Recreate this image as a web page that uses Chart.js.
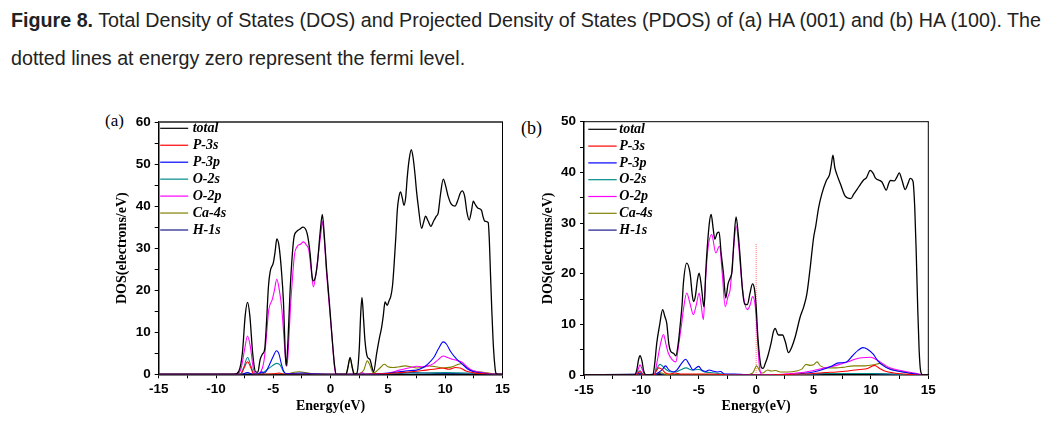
<!DOCTYPE html>
<html>
<head>
<meta charset="utf-8">
<script src="https://cdn.jsdelivr.net/npm/chart.js@4.4.1/dist/chart.umd.min.js"></script>
<style>
  body { margin: 0; background: #fff; width: 1058px; height: 429px; overflow: hidden; position: relative; }
  .cap { position: absolute; left: 11px; font-family: 'Liberation Sans', Arial, sans-serif; font-size: 19.7px; line-height: 38px; color: #222; white-space: nowrap; }
  .tag { position: absolute; font-family: 'Liberation Serif', serif; color: #000; line-height: 20px; }
  canvas { position: absolute; }
</style>
</head>
<body>
<div class="cap" style="top:1px"><b>Figure 8.</b> Total Density of States (DOS) and Projected Density of States (PDOS) of (a) HA (001) and (b) HA (100). The</div>
<div class="cap" style="top:39px">dotted lines at energy zero represent the fermi level.</div>
<div class="tag" style="left:105px; top:111px; font-size:17px">(a)</div>
<div class="tag" style="left:521px; top:118px; font-size:18px">(b)</div>
<canvas id="chartA" width="520" height="329" style="left:0; top:100px"></canvas>
<canvas id="chartB" width="538" height="329" style="left:520px; top:100px"></canvas>
<script>
const seriesNames = ['total', 'P-3s', 'P-3p', 'O-2s', 'O-2p', 'Ca-4s', 'H-1s'];
const seriesColors = ['#000000', '#ff0000', '#0000ff', '#008b8b', '#ff00ff', '#808000', '#1a1a8c'];

const energyTicks = [-15, -12.5, -10, -7.5, -5, -2.5, 0, 2.5, 5, 7.5, 10, 12.5, 15];
const energyLabels = [-15, -10, -5, 0, 5, 10, 15];
const dosTicksA = [0, 5, 10, 15, 20, 25, 30, 35, 40, 45, 50, 55, 60];
const dosTicksB = [0, 5, 10, 15, 20, 25, 30, 35, 40, 45, 50];
const dosLabels = [0, 10, 20, 30, 40, 50, 60];

// (a) HA (001) -- [energy, DOS]
const aTotal = [[-15,0],[-8.4,0],[-8.0,0.8],[-7.7,5],[-7.45,14],[-7.25,17.1],[-7.05,14],[-6.8,5],[-6.55,0.6],[-6.35,0.5],[-6.15,3.5],[-5.95,4.8],[-5.75,6],[-5.6,12],[-5.42,21],[-5.27,24.5],[-5.0,26.5],[-4.85,29],[-4.69,32.2],[-4.5,30.5],[-4.3,25],[-4.11,17],[-3.97,6],[-3.87,2],[-3.72,8],[-3.55,19],[-3.38,27],[-3.2,32.5],[-2.95,34],[-2.7,34.5],[-2.4,35],[-2.05,33.5],[-1.8,29],[-1.6,23],[-1.48,22.2],[-1.3,23.5],[-1.15,26.4],[-0.92,33.5],[-0.72,38],[-0.55,33],[-0.35,25],[-0.12,17.5],[0.15,8],[0.35,2],[0.5,0],[1.35,0],[1.5,1.5],[1.7,4.0],[1.9,1.5],[2.05,0],[2.3,0.3],[2.5,6],[2.62,14],[2.74,18.3],[2.88,13],[3.0,8],[3.2,4.2],[3.44,3.5],[3.6,1.8],[3.75,0.6],[4.02,5],[4.25,8.5],[4.46,11.3],[4.6,14],[4.75,17.2],[4.95,16.4],[5.1,17.5],[5.24,18.4],[5.4,21],[5.53,25.6],[5.7,33],[5.82,39],[5.95,42],[6.1,43.4],[6.25,42],[6.4,40.2],[6.55,42],[6.69,46.9],[6.85,51],[7.04,53.4],[7.2,51.5],[7.36,47.7],[7.5,43.5],[7.65,40],[7.94,34.7],[8.1,36],[8.29,37.6],[8.5,36.5],[8.75,35.2],[9.0,36.5],[9.2,37.5],[9.39,38.4],[9.6,43],[9.83,46.4],[10.05,44.7],[10.26,42.3],[10.5,40.6],[10.85,40],[11.13,41.6],[11.3,43],[11.48,43.6],[11.7,42.3],[11.9,38.5],[12.09,36.7],[12.3,39],[12.45,41.2],[12.6,40.5],[12.87,39.5],[13.17,39],[13.3,37.5],[13.46,36.4],[13.75,36.1],[13.85,32],[13.95,24],[14.07,15],[14.18,8],[14.3,3],[14.42,0.3],[14.6,0],[15,0]];
const aP3s = [[-15,0],[-7.85,0],[-7.55,1.5],[-7.25,3.0],[-6.95,1.5],[-6.7,0],[-5,0.1],[-4.5,0.3],[-4,0],[0,0],[5,0.2],[6,0.4],[7,0.6],[8,0.9],[9,1.2],[9.8,1.5],[10.3,1.2],[10.9,1.6],[11.3,1.5],[11.8,0.8],[12.4,0.4],[13,0.2],[14,0],[15,0]];
const aP3p = [[-15,0],[-7.8,0],[-7.25,0.4],[-6.8,0],[-6.2,0.2],[-6.0,0.6],[-5.8,0.3],[-5.6,0.8],[-5.3,2.5],[-5.0,4.3],[-4.72,5.6],[-4.5,4.8],[-4.3,2.5],[-4.1,0.8],[-3.9,0.2],[-3.5,0.2],[-2.5,0.3],[-1.5,0.1],[0,0],[3,0],[4,0.1],[5,0.3],[6,0.6],[7,0.9],[7.5,1.0],[8.0,1.5],[8.5,2.5],[9.0,4.0],[9.4,6.0],[9.83,7.7],[10.1,7.2],[10.5,5.3],[11.0,3.6],[11.5,2.4],[12.0,1.2],[12.5,0.6],[13.2,0.3],[14.2,0],[15,0]];
const aO2s = [[-15,0],[-7.9,0],[-7.6,1.5],[-7.25,4.0],[-6.95,2],[-6.7,0.2],[-6.2,0.2],[-5.9,0.4],[-5.5,1.2],[-5.1,2.0],[-4.72,2.6],[-4.4,2.2],[-4.15,0.8],[-3.9,0.1],[-3,0.1],[0,0],[5,0.1],[6,0.3],[8,0.3],[10,0.4],[12,0.3],[14,0],[15,0]];
const aO2p = [[-15,0],[-8.2,0],[-7.8,1.5],[-7.5,6],[-7.25,9.1],[-7.0,6.5],[-6.75,1.5],[-6.5,0.1],[-6.2,0.3],[-5.95,1.5],[-5.8,3.4],[-5.6,9],[-5.4,15.3],[-5.1,17.7],[-4.9,20],[-4.7,22.6],[-4.5,20.5],[-4.25,15.3],[-4.05,8],[-3.9,2.6],[-3.8,2],[-3.65,8],[-3.5,16],[-3.35,22],[-3.15,28.5],[-2.94,30.3],[-2.6,31],[-2.37,31.5],[-2.1,30.7],[-1.9,29.5],[-1.7,25],[-1.5,20.8],[-1.3,23.5],[-1.06,28.8],[-0.85,33.5],[-0.71,36.3],[-0.55,32],[-0.35,24],[-0.12,16.5],[0.15,8],[0.33,2],[0.45,0],[2.5,0],[2.75,0.4],[3.0,0],[4.5,0.1],[5.0,0.2],[5.5,0.6],[6.0,1.0],[6.5,1.3],[7.0,1.6],[7.5,1.9],[8.0,1.8],[8.5,2.0],[9.0,2.6],[9.4,3.5],[9.83,4.35],[10.2,4.0],[10.6,3.6],[11.0,3.3],[11.5,2.8],[11.9,1.8],[12.3,1.0],[12.8,0.6],[13.5,0.3],[14.3,0],[15,0]];
const aCa4s = [[-15,0],[-8,0],[-7.25,0.3],[-6.5,0],[-3.6,0.2],[-3.2,0.5],[-2.7,0.6],[-2.2,0.4],[-1.5,0.1],[0,0],[1.3,0],[1.5,1.5],[1.7,3.8],[1.9,1.5],[2.1,0.1],[2.5,0.2],[2.9,1.0],[3.2,3.2],[3.45,2.0],[3.7,0.4],[3.9,0.5],[4.3,1.5],[4.7,2.4],[5.0,1.8],[5.5,1.6],[6.0,1.8],[6.5,2.0],[7.0,1.8],[7.5,1.5],[8.0,1.6],[8.6,2.0],[9.2,1.8],[9.8,1.5],[10.5,1.7],[11.0,2.2],[11.35,2.5],[11.7,2.0],[12.2,1.0],[13.0,0.6],[13.8,0.3],[14.5,0],[15,0]];
const aH1s = [[-15,0],[-6.2,0],[-6.0,0.4],[-5.8,0],[5,0],[6,0.2],[7,0.4],[8,0.3],[10,0.2],[12,0.1],[15,0]];

// (b) HA (100) -- [energy, DOS]
const bTotal = [[-15,0],[-10.6,0],[-10.4,1],[-10.25,3],[-10.12,3.8],[-9.95,2.8],[-9.8,0.8],[-9.6,0],[-9.0,0],[-8.85,2],[-8.66,6.3],[-8.4,10],[-8.15,12.9],[-7.95,11.5],[-7.79,10.2],[-7.6,6],[-7.45,4.7],[-7.2,4.3],[-7.0,3.8],[-6.8,6],[-6.63,9.6],[-6.45,14],[-6.34,18.1],[-6.05,22.1],[-5.76,20.1],[-5.55,15.5],[-5.45,14.5],[-5.3,15.5],[-5.1,19],[-4.97,20.1],[-4.8,18],[-4.6,14],[-4.53,13.5],[-4.4,20],[-4.25,25.5],[-4.05,30.5],[-3.92,31.7],[-3.75,29],[-3.6,26.8],[-3.4,28],[-3.23,28.2],[-3.05,24],[-2.85,20.1],[-2.65,15.2],[-2.45,18],[-2.25,19.2],[-2.1,20.5],[-1.95,26],[-1.75,31.2],[-1.55,27.5],[-1.4,23.4],[-1.2,17],[-1.0,14],[-0.76,13.9],[-0.55,16],[-0.32,18],[-0.15,17],[0,13.5],[0.15,7.5],[0.3,3.6],[0.45,1.5],[0.6,1.3],[0.8,2.3],[1.0,3.6],[1.3,6.3],[1.5,8.5],[1.66,9.2],[1.85,8.2],[1.95,7.9],[2.3,7.9],[2.55,6.5],[2.82,4.4],[3.1,5.5],[3.4,7.5],[3.84,11.5],[4.15,13.5],[4.42,16],[4.7,21],[5.0,27],[5.2,29.5],[5.44,33],[5.73,35.8],[6.1,38.3],[6.4,39.6],[6.55,41.5],[6.69,43.4],[6.85,41],[7.03,39.6],[7.33,37.8],[7.76,35.3],[8.26,34.8],[8.5,35.7],[8.78,36.6],[9.1,37.7],[9.36,38.5],[9.6,38.9],[9.94,40.4],[10.2,39.8],[10.38,38.9],[10.96,38.1],[11.34,36.5],[11.55,37.8],[11.69,38.4],[12.03,38.3],[12.25,39],[12.47,39.9],[12.7,38.5],[12.99,36.6],[13.2,37.6],[13.43,38.8],[13.66,38.3],[13.82,33],[13.95,24],[14.08,13],[14.2,5],[14.33,0.8],[14.5,0],[15,0]];
const bP3s = [[-15,0],[-10.5,0],[-10.12,0.7],[-9.8,0],[-8.9,0],[-8.7,0.8],[-8.5,1.4],[-8.2,1.1],[-7.9,0.4],[-7.5,0.2],[-7.1,0.4],[-6.6,0.2],[-6,0.2],[-4,0.2],[-2,0],[0,0],[4,0.2],[5,0.3],[6,0.5],[7,0.6],[8,0.8],[9,1.1],[9.7,1.3],[10.3,1.9],[10.7,1.4],[11.2,0.8],[12,0.4],[13,0.2],[14,0],[15,0]];
const bP3p = [[-15,0],[-10.5,0],[-10.12,0.4],[-9.8,0],[-8.9,0],[-8.5,0.5],[-8.2,1.0],[-7.9,1.8],[-7.6,1.0],[-7.2,0.6],[-6.9,1.0],[-6.5,2.3],[-6.15,3.1],[-5.8,2.0],[-5.5,1.0],[-5.2,1.5],[-5.0,1.7],[-4.75,1.0],[-4.4,0.7],[-4.1,1.0],[-3.8,0.8],[-3.4,0.6],[-3.1,0.7],[-2.8,0.2],[-2.0,0.2],[-1,0.1],[0,0],[3,0.1],[4,0.3],[5,0.6],[5.8,1.1],[6.5,1.7],[7.2,2.4],[7.8,2.5],[8.4,3.8],[8.9,4.9],[9.3,5.4],[9.7,5.1],[10.2,4.1],[10.6,2.8],[11.1,1.8],[11.7,1.1],[12.5,0.7],[13.3,0.4],[14.2,0.1],[15,0]];
const bO2s = [[-15,0],[-10.5,0],[-10.12,0.9],[-9.8,0],[-8.9,0],[-8.6,1.5],[-8.38,2.1],[-8.1,1.6],[-7.8,1.0],[-7.4,0.6],[-7.0,0.6],[-6.6,1.0],[-6.1,1.4],[-5.6,1.0],[-5.0,1.1],[-4.5,0.6],[-4,0.5],[-3.3,0.3],[-2.5,0.1],[0,0],[4,0.1],[6,0.3],[8,0.3],[10,0.3],[12,0.2],[14,0],[15,0]];
const bO2p = [[-15,0],[-10.5,0],[-10.3,1],[-10.12,2.0],[-9.9,1],[-9.7,0],[-8.9,0],[-8.6,3],[-8.3,6.5],[-8.08,8.0],[-7.85,6],[-7.65,4.3],[-7.3,3],[-7.0,2.6],[-6.75,6],[-6.5,10],[-6.34,12.9],[-6.05,16.2],[-5.75,14],[-5.47,11.9],[-5.2,14],[-4.97,16.2],[-4.8,14],[-4.6,10.9],[-4.45,17],[-4.24,24.1],[-3.87,27.7],[-3.52,24.1],[-3.2,25.4],[-2.95,20],[-2.7,13.5],[-2.45,15.5],[-2.27,16.8],[-2.0,24],[-1.74,29.4],[-1.5,25],[-1.4,22.1],[-1.1,15.5],[-0.76,12.9],[-0.5,14],[-0.32,15.5],[-0.1,14],[0,11.5],[0.15,6],[0.29,1.6],[0.5,0.1],[2,0.1],[3,0.3],[4,0.5],[5,0.9],[6,1.4],[7,1.9],[8,2.6],[8.6,3.1],[9.2,3.4],[10.0,3.5],[10.5,3.0],[11.0,2.3],[11.5,1.6],[12.0,1.2],[12.8,0.8],[13.5,0.5],[14.2,0.2],[14.6,0],[15,0]];
const bCa4s = [[-15,0],[-10.5,0],[-10.12,0.3],[-9.8,0],[-8.9,0],[-8.4,0.5],[-8,0.2],[-7,0],[-1,0],[-0.3,0.4],[0.05,1.8],[0.35,0.6],[0.6,0.4],[1.0,1.0],[1.3,0.8],[1.7,0.9],[2.1,0.6],[2.8,0.6],[3.5,0.8],[4.0,1.2],[4.35,2.1],[4.7,1.9],[5.0,2.0],[5.3,2.6],[5.6,1.8],[6.2,1.4],[7.0,1.4],[7.5,1.5],[8.5,1.8],[9.5,1.8],[10.2,2.0],[10.8,2.3],[11.3,1.6],[12.0,1.0],[12.8,0.6],[13.5,0.3],[14.3,0],[15,0]];
const bH1s = [[-15,0],[-10.2,0.2],[-9.8,0],[-8.4,0.3],[-8,0],[4,0],[6,0.3],[8,0.3],[10,0.3],[12,0.1],[15,0]];
const bFermi = [[0,0],[0,26]];

const seriesA = [aTotal, aP3s, aP3p, aO2s, aO2p, aCa4s, aH1s];
const seriesB = [bTotal, bP3s, bP3p, bO2s, bO2p, bCa4s, bH1s];

function pts(arr) {
    return arr.map(p => ({ x: p[0], y: p[1] }));
}

// frame (top/right) and the legend drawn inside the plot
const frameLegend = {
    id: 'frameLegend',
    afterDatasetsDraw(chart, args, o) {
        const { ctx, chartArea: ca } = chart;
        ctx.save();
        ctx.strokeStyle = o.topColor;
        ctx.lineWidth = o.topWidth;
        ctx.beginPath();
        ctx.moveTo(ca.left, ca.top);
        ctx.lineTo(ca.right + 0.5, ca.top);
        ctx.stroke();
        ctx.strokeStyle = '#000';
        ctx.lineWidth = 1;
        ctx.beginPath();
        ctx.moveTo(ca.right, ca.top);
        ctx.lineTo(ca.right, ca.bottom);
        ctx.stroke();

        ctx.font = 'italic bold 14px "Liberation Serif"';
        ctx.textBaseline = 'middle';
        chart.data.datasets.forEach((ds, i) => {
            if (!ds.label) return;
            const y = ca.top + o.y0 + i * o.rowH;
            ctx.strokeStyle = ds.borderColor;
            ctx.lineWidth = 1.2;
            ctx.beginPath();
            ctx.moveTo(ca.left + o.x0, y);
            ctx.lineTo(ca.left + o.x0 + o.lineW, y);
            ctx.stroke();
            ctx.fillStyle = '#000';
            ctx.fillText(ds.label, ca.left + o.textX, y);
        });
        ctx.restore();
    }
};

function makeChart(id, series, fermi, cfg) {
    const datasets = series.map((s, i) => ({
        label: seriesNames[i],
        data: pts(s),
        borderColor: seriesColors[i],
        borderWidth: i === 0 ? 1.3 : 1.1,
        pointRadius: 0,
        cubicInterpolationMode: 'monotone',
        fill: false
    }));
    if (fermi) {
        datasets.push({
            label: '',
            data: pts(fermi),
            borderColor: '#ff7070',
            borderWidth: 1,
            borderDash: [1, 1],
            pointRadius: 0,
            fill: false
        });
    }

    const tickFont = { family: 'Liberation Sans', weight: 'bold', size: 13.5 };
    const titleFont = { family: 'Liberation Serif', weight: 'bold', size: 14 };

    return new Chart(document.getElementById(id), {
        type: 'line',
        data: { datasets },
        plugins: [frameLegend],
        options: {
            responsive: false,
            animation: false,
            events: [],
            layout: { padding: cfg.padding },
            plugins: {
                legend: { display: false },
                tooltip: { enabled: false },
                frameLegend: cfg.legend
            },
            scales: {
                x: {
                    type: 'linear',
                    min: -15,
                    max: 15,
                    afterBuildTicks: s => { s.ticks = energyTicks.map(v => ({ value: v })); },
                    ticks: {
                        autoSkip: false,
                        maxRotation: 0,
                        padding: 3,
                        color: '#000',
                        font: tickFont,
                        callback: v => energyLabels.includes(v) ? String(v) : ''
                    },
                    grid: { drawOnChartArea: false, tickLength: 4, tickColor: '#000' },
                    border: { color: '#000', width: 1.5 },
                    title: { display: true, text: 'Energy(eV)', color: '#000', font: titleFont, padding: { top: 0, bottom: 14 } },
                    afterFit: s => { s.height = cfg.xH; }
                },
                y: {
                    type: 'linear',
                    min: 0,
                    max: cfg.yMax,
                    afterBuildTicks: s => { s.ticks = cfg.yTicks.map(v => ({ value: v })); },
                    ticks: {
                        autoSkip: false,
                        padding: 4,
                        color: '#000',
                        font: tickFont,
                        callback: v => dosLabels.includes(v) ? String(v) : ''
                    },
                    grid: { drawOnChartArea: false, tickLength: 4, tickColor: '#000' },
                    border: { color: '#000', width: 1.5 },
                    title: { display: true, text: 'DOS(electrons/eV)', color: '#000', font: titleFont, padding: { top: 3.5, bottom: 0 } },
                    afterFit: s => { s.width = cfg.yW; }
                }
            }
        }
    });
}

makeChart('chartA', seriesA, null, {
    padding: { left: 110, right: 17.5, top: 22, bottom: 0 },
    xH: 54.7, yW: 48.7, yMax: 60, yTicks: dosTicksA,
    legend: { topColor: '#555', topWidth: 2, x0: 1.5, lineW: 28, textX: 34, y0: 6.3, rowH: 16.95 }
});

makeChart('chartB', seriesB, bFermi, {
    padding: { left: 16, right: 129.7, top: 21.7, bottom: 0 },
    xH: 54, yW: 48, yMax: 50, yTicks: dosTicksB,
    legend: { topColor: '#000', topWidth: 1, x0: 4.3, lineW: 28.4, textX: 35.3, y0: 7.6, rowH: 16.8 }
});
</script>
</body>
</html>
